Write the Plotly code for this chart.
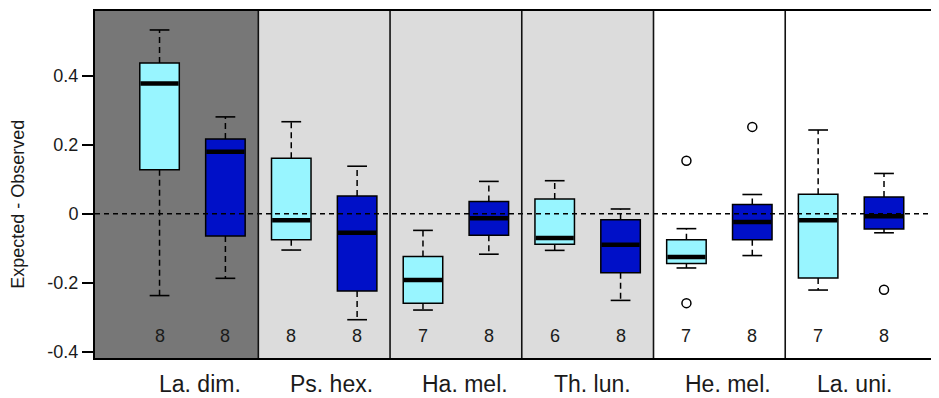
import plotly.graph_objects as go

# ---------------- data ----------------
groups = ["La. dim.", "Ps. hex.", "Ha. mel.", "Th. lun.", "He. mel.", "La. uni."]
panel_colors = ["#777777", "#DCDCDC", "#DCDCDC", "#DCDCDC", "#FFFFFF", "#FFFFFF"]

light_lower = [-0.237, -0.105, -0.279, -0.106, -0.157, -0.221]
light_q1 = [0.128, -0.075, -0.259, -0.088, -0.144, -0.186]
light_median = [0.378, -0.019, -0.192, -0.070, -0.125, -0.019]
light_q3 = [0.437, 0.161, -0.124, 0.043, -0.075, 0.057]
light_upper = [0.533, 0.267, -0.048, 0.096, -0.043, 0.243]
light_n = [8, 8, 7, 6, 7, 7]
light_outliers = [[], [], [], [], [0.154, -0.259], []]

dark_lower = [-0.187, -0.307, -0.117, -0.251, -0.121, -0.055]
dark_q1 = [-0.064, -0.224, -0.062, -0.171, -0.075, -0.044]
dark_median = [0.180, -0.055, -0.013, -0.090, -0.024, -0.007]
dark_q3 = [0.217, 0.052, 0.036, -0.017, 0.027, 0.049]
dark_upper = [0.281, 0.138, 0.094, 0.014, 0.056, 0.117]
dark_n = [8, 8, 8, 8, 8, 8]
dark_outliers = [[], [], [], [], [0.252], [-0.220]]

y_ticks = [-0.4, -0.2, 0, 0.2, 0.4]
y_tick_labels = ["-0.4", "-0.2", "0", "0.2", "0.4"]

LIGHT = "#98F5FF"
DARK = "#0010C8"
FONT = "Liberation Sans, Arial, sans-serif"
TXT = "#1a1a1a"

X_RANGE = [0.02, 12.835]
Y_RANGE = [-0.418, 0.588]
BOX_HALF = 0.30
CAP_HALF = 0.15
N_Y = -0.353

fig = go.Figure()
shapes = []
annotations = []

# panel backgrounds
for g, col in enumerate(panel_colors):
    x0 = 2 * g + 0.5 if g > 0 else X_RANGE[0]
    x1 = 2 * g + 2.5 if g < len(groups) - 1 else X_RANGE[1]
    shapes.append(dict(type="rect", xref="x", yref="paper", x0=x0, x1=x1, y0=0, y1=1,
                       fillcolor=col, line=dict(width=0), layer="below"))

series = [
    (LIGHT, light_lower, light_q1, light_median, light_q3, light_upper, light_n, light_outliers, 0),
    (DARK, dark_lower, dark_q1, dark_median, dark_q3, dark_upper, dark_n, dark_outliers, 1),
]

ox, oy = [], []
for col, lo, q1, med, q3, up, ns, outs, off in series:
    for g in range(len(groups)):
        p = 2 * g + 1 + off
        # whiskers (dashed)
        shapes.append(dict(type="line", xref="x", yref="y", x0=p, x1=p, y0=q3[g], y1=up[g],
                           line=dict(color="black", width=1.5, dash="6px,4px")))
        shapes.append(dict(type="line", xref="x", yref="y", x0=p, x1=p, y0=q1[g], y1=lo[g],
                           line=dict(color="black", width=1.5, dash="6px,4px")))
        # caps
        for v in (up[g], lo[g]):
            shapes.append(dict(type="line", xref="x", yref="y", x0=p - CAP_HALF, x1=p + CAP_HALF,
                               y0=v, y1=v, line=dict(color="black", width=1.6)))
        # box
        shapes.append(dict(type="rect", xref="x", yref="y", x0=p - BOX_HALF, x1=p + BOX_HALF,
                           y0=q1[g], y1=q3[g], fillcolor=col, line=dict(color="black", width=1.5)))
        # median
        shapes.append(dict(type="line", xref="x", yref="y", x0=p - BOX_HALF + 0.01, x1=p + BOX_HALF - 0.01,
                           y0=med[g], y1=med[g], line=dict(color="black", width=4.5)))
        # n label
        annotations.append(dict(x=p, y=N_Y, xref="x", yref="y", text=str(ns[g]), showarrow=False,
                                font=dict(family=FONT, size=18, color=TXT)))
        for v in outs[g]:
            ox.append(p)
            oy.append(v)

# zero reference line
shapes.append(dict(type="line", xref="paper", yref="y", x0=0, x1=1, y0=0, y1=0,
                   line=dict(color="black", width=1.5, dash="5px,4px")))

# group dividers
for g in range(1, len(groups)):
    xb = 2 * g + 0.5
    shapes.append(dict(type="line", xref="x", yref="paper", x0=xb, x1=xb, y0=0, y1=1,
                       line=dict(color="#111111", width=1.6)))

# outliers
fig.add_trace(go.Scatter(x=ox, y=oy, mode="markers", hoverinfo="skip",
                         marker=dict(symbol="circle-open", size=9, color="black",
                                     line=dict(width=1.5, color="black"))))

# group labels (left-aligned at first box of each group)
for g, name in enumerate(groups):
    annotations.append(dict(x=2 * g + 1, y=-0.075, xref="x", yref="paper", text=name,
                            showarrow=False, xanchor="left", yanchor="middle", xshift=-3,
                            font=dict(family=FONT, size=23, color=TXT)))

# y-axis title
annotations.append(dict(x=0, y=0.026, xref="paper", yref="y", text="Expected - Observed",
                        textangle=-90, showarrow=False, xanchor="center", yanchor="middle",
                        xshift=-77, font=dict(family=FONT, size=18, color=TXT)))

fig.update_layout(
    width=931, height=390,
    margin=dict(l=87, r=0, t=3, b=40),
    paper_bgcolor="white", plot_bgcolor="white",
    showlegend=False,
    shapes=shapes, annotations=annotations,
    xaxis=dict(range=X_RANGE, showgrid=False, zeroline=False, showticklabels=False,
               ticks="", showline=True, mirror=True, linecolor="black", linewidth=2,
               automargin=False),
    yaxis=dict(range=Y_RANGE, tickvals=y_ticks, ticktext=y_tick_labels, showgrid=False,
               zeroline=False, ticks="outside", ticklen=11, tickwidth=1.5, tickcolor="black",
               showline=True, linecolor="black", linewidth=2, automargin=False,
               tickfont=dict(family=FONT, size=18, color=TXT)),
)

fig.write_html("out.html")
